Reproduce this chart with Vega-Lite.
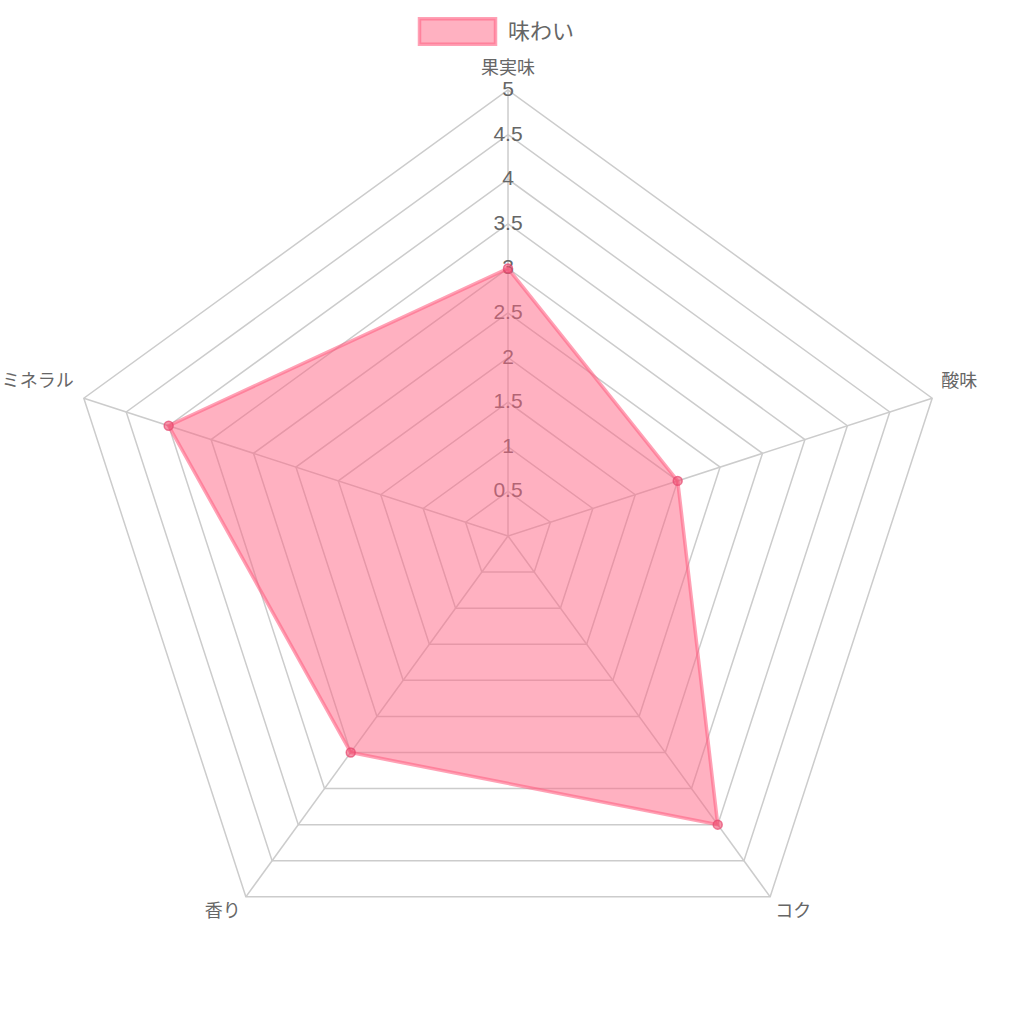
{
  "$schema": "https://vega.github.io/schema/vega-lite/v6.json",
  "width": 1012,
  "height": 1012,
  "autosize": {"type": "fit", "contains": "padding"},
  "padding": 0,
  "background": "white",
  "config": {"view": {"stroke": null}, "font": "Liberation Sans"},
  "datasets": {
    "axes": [
      {"axis": "果実味", "i": 0, "value": 3},
      {"axis": "酸味", "i": 1, "value": 2},
      {"axis": "コク", "i": 2, "value": 4},
      {"axis": "香り", "i": 3, "value": 3},
      {"axis": "ミネラル", "i": 4, "value": 4}
    ],
    "rings": [
      {"level": 0.5, "label": "0.5", "i": [0, 1, 2, 3, 4]},
      {"level": 1, "label": "1", "i": [0, 1, 2, 3, 4]},
      {"level": 1.5, "label": "1.5", "i": [0, 1, 2, 3, 4]},
      {"level": 2, "label": "2", "i": [0, 1, 2, 3, 4]},
      {"level": 2.5, "label": "2.5", "i": [0, 1, 2, 3, 4]},
      {"level": 3, "label": "3", "i": [0, 1, 2, 3, 4]},
      {"level": 3.5, "label": "3.5", "i": [0, 1, 2, 3, 4]},
      {"level": 4, "label": "4", "i": [0, 1, 2, 3, 4]},
      {"level": 4.5, "label": "4.5", "i": [0, 1, 2, 3, 4]},
      {"level": 5, "label": "5", "i": [0, 1, 2, 3, 4]}
    ]
  },
  "layer": [
    {
      "data": {"name": "rings"},
      "transform": [
        {"flatten": ["i"]},
        {"calculate": "datum.level * sin(datum.i * 2 * PI / 5)", "as": "gx"},
        {"calculate": "datum.level * cos(datum.i * 2 * PI / 5)", "as": "gy"}
      ],
      "mark": {"type": "line", "interpolate": "linear-closed", "stroke": "#cccccc", "strokeWidth": 1.5},
      "encoding": {
        "x": {"field": "gx", "type": "quantitative", "scale": {"domain": [-5.695, 5.65], "nice": false, "zero": false}, "axis": null},
        "y": {"field": "gy", "type": "quantitative", "scale": {"domain": [-5.336, 6.009], "nice": false, "zero": false}, "axis": null},
        "detail": {"field": "level", "type": "nominal"},
        "order": {"field": "i", "type": "quantitative"}
      }
    },
    {
      "data": {"name": "axes"},
      "transform": [
        {"calculate": "5 * sin(datum.i * 2 * PI / 5)", "as": "ox"},
        {"calculate": "5 * cos(datum.i * 2 * PI / 5)", "as": "oy"},
        {"calculate": "0", "as": "zero"}
      ],
      "mark": {"type": "rule", "stroke": "#cccccc", "strokeWidth": 1.5},
      "encoding": {
        "x": {"field": "ox", "type": "quantitative"},
        "y": {"field": "oy", "type": "quantitative"},
        "x2": {"field": "zero"},
        "y2": {"field": "zero"}
      }
    },
    {
      "data": {"name": "rings"},
      "transform": [{"calculate": "0", "as": "zero"}],
      "mark": {"type": "text", "fontSize": 21, "color": "#666666", "align": "center", "baseline": "middle", "font": "Liberation Sans"},
      "encoding": {
        "x": {"field": "zero", "type": "quantitative"},
        "y": {"field": "level", "type": "quantitative"},
        "text": {"field": "label", "type": "nominal"}
      }
    },
    {
      "data": {"name": "axes"},
      "transform": [
        {"filter": "datum.i == 0"},
        {"calculate": "5 * sin(datum.i * 2 * PI / 5)", "as": "ox"},
        {"calculate": "5 * cos(datum.i * 2 * PI / 5)", "as": "oy"}
      ],
      "mark": {"type": "text", "fontSize": 18, "color": "#666666", "align": "center", "baseline": "middle", "dy": -21, "font": "Noto Sans CJK JP"},
      "encoding": {
        "x": {"field": "ox", "type": "quantitative"},
        "y": {"field": "oy", "type": "quantitative"},
        "text": {"field": "axis", "type": "nominal"}
      }
    },
    {
      "data": {"name": "axes"},
      "transform": [
        {"filter": "datum.i == 1"},
        {"calculate": "5 * sin(datum.i * 2 * PI / 5)", "as": "ox"},
        {"calculate": "5 * cos(datum.i * 2 * PI / 5)", "as": "oy"}
      ],
      "mark": {"type": "text", "fontSize": 18, "color": "#666666", "align": "left", "baseline": "middle", "dx": 9, "dy": -16, "font": "Noto Sans CJK JP"},
      "encoding": {
        "x": {"field": "ox", "type": "quantitative"},
        "y": {"field": "oy", "type": "quantitative"},
        "text": {"field": "axis", "type": "nominal"}
      }
    },
    {
      "data": {"name": "axes"},
      "transform": [
        {"filter": "datum.i == 4"},
        {"calculate": "5 * sin(datum.i * 2 * PI / 5)", "as": "ox"},
        {"calculate": "5 * cos(datum.i * 2 * PI / 5)", "as": "oy"}
      ],
      "mark": {"type": "text", "fontSize": 18, "color": "#666666", "align": "right", "baseline": "middle", "dx": -10, "dy": -16, "font": "Noto Sans CJK JP"},
      "encoding": {
        "x": {"field": "ox", "type": "quantitative"},
        "y": {"field": "oy", "type": "quantitative"},
        "text": {"field": "axis", "type": "nominal"}
      }
    },
    {
      "data": {"name": "axes"},
      "transform": [
        {"filter": "datum.i == 2"},
        {"calculate": "5 * sin(datum.i * 2 * PI / 5)", "as": "ox"},
        {"calculate": "5 * cos(datum.i * 2 * PI / 5)", "as": "oy"}
      ],
      "mark": {"type": "text", "fontSize": 18, "color": "#666666", "align": "left", "baseline": "middle", "dx": 5, "dy": 15, "font": "Noto Sans CJK JP"},
      "encoding": {
        "x": {"field": "ox", "type": "quantitative"},
        "y": {"field": "oy", "type": "quantitative"},
        "text": {"field": "axis", "type": "nominal"}
      }
    },
    {
      "data": {"name": "axes"},
      "transform": [
        {"filter": "datum.i == 3"},
        {"calculate": "5 * sin(datum.i * 2 * PI / 5)", "as": "ox"},
        {"calculate": "5 * cos(datum.i * 2 * PI / 5)", "as": "oy"}
      ],
      "mark": {"type": "text", "fontSize": 18, "color": "#666666", "align": "right", "baseline": "middle", "dx": -5, "dy": 15, "font": "Noto Sans CJK JP"},
      "encoding": {
        "x": {"field": "ox", "type": "quantitative"},
        "y": {"field": "oy", "type": "quantitative"},
        "text": {"field": "axis", "type": "nominal"}
      }
    },
    {
      "data": {"name": "axes"},
      "transform": [
        {"calculate": "datum.value * sin(datum.i * 2 * PI / 5)", "as": "px"},
        {"calculate": "datum.value * cos(datum.i * 2 * PI / 5)", "as": "py"},
        {"calculate": "'味わい'", "as": "series"}
      ],
      "mark": {"type": "line", "interpolate": "linear-closed", "fill": "rgba(255,99,132,0.5)", "strokeWidth": 3.5},
      "encoding": {
        "x": {"field": "px", "type": "quantitative"},
        "y": {"field": "py", "type": "quantitative"},
        "order": {"field": "i", "type": "quantitative"},
        "color": {
          "field": "series",
          "type": "nominal",
          "scale": {"range": ["rgba(255,99,132,0.6)"]},
          "legend": {
            "orient": "none",
            "legendX": 430,
            "legendY": 4,
            "title": null,
            "symbolType": "M-1.5,-0.5H1.5V0.5H-1.5Z",
            "symbolSize": 2567,
            "symbolStrokeWidth": 3.5,
            "symbolFillColor": "rgba(255,99,132,0.5)",
            "labelFontSize": 22,
            "labelColor": "#666666",
            "labelFont": "Noto Sans CJK JP",
            "labelOffset": 23,
            "padding": 0
          }
        }
      }
    },
    {
      "data": {"name": "axes"},
      "transform": [
        {"calculate": "datum.value * sin(datum.i * 2 * PI / 5)", "as": "px"},
        {"calculate": "datum.value * cos(datum.i * 2 * PI / 5)", "as": "py"}
      ],
      "mark": {"type": "point", "filled": true, "size": 80, "fill": "rgba(240,80,115,0.6)", "stroke": "rgba(230,70,110,0.7)", "strokeWidth": 1.5, "opacity": 1},
      "encoding": {
        "x": {"field": "px", "type": "quantitative"},
        "y": {"field": "py", "type": "quantitative"}
      }
    }
  ]
}
